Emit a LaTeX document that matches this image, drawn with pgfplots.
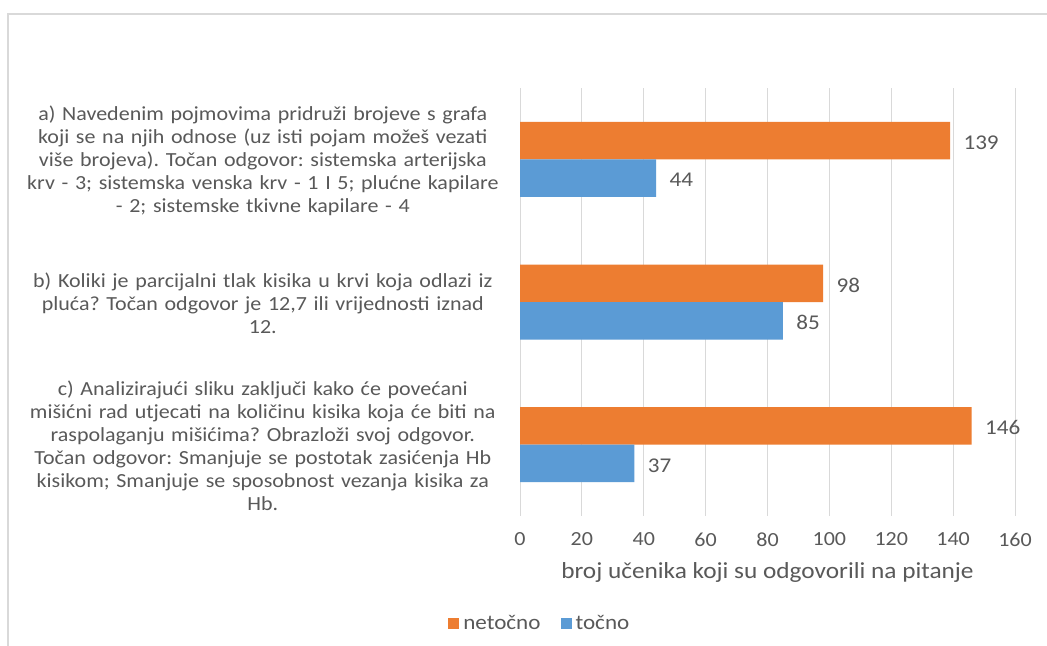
\documentclass[border=0pt]{standalone}
\usepackage{pgfplots}
\pgfplotsset{compat=1.18}
\usepackage{fontspec}
\setmainfont{Carlito}[FakeStretch=1.1]
\frenchspacing
\definecolor{tx}{HTML}{595959}
\definecolor{gr}{HTML}{D9D9D9}
\definecolor{orng}{HTML}{ED7D31}
\definecolor{blu}{HTML}{5B9BD5}
\begin{document}
\begin{tikzpicture}
\useasboundingbox (0bp,0bp) rectangle (1047bp,646bp);
\fill[white] (0bp,0bp) rectangle (1047bp,646bp);
\draw[gr, line width=1.5bp] (8bp,-2bp) -- (8bp,632bp) -- (1049bp,632bp);
\begin{axis}[
  at={(520bp,130bp)}, anchor=south west,
  scale only axis, width=495bp, height=428bp,
  xbar, bar width=37.5bp,
  xmin=0, xmax=160, ymin=-0.5, ymax=2.5, y dir=reverse,
  xtick={0,20,...,160}, ytick={0,1,2},
  yticklabels={
    {a) Navedenim pojmovima pridruži brojeve s grafa\\koji se na njih odnose (uz isti pojam možeš vezati\\više brojeva). Točan odgovor: sistemska arterijska\\krv - 3; sistemska venska krv - 1 I 5; plućne kapilare\\- 2; sistemske tkivne kapilare - 4},
    {b) Koliki je parcijalni tlak kisika u krvi koja odlazi iz\\pluća? Točan odgovor je 12,7 ili vrijednosti iznad\\12.},
    {c) Analizirajući sliku zaključi kako će povećani\\mišićni rad utjecati na količinu kisika koja će biti na\\raspolaganju mišićima? Obrazloži svoj odgovor.\\Točan odgovor: Smanjuje se postotak zasićenja Hb\\kisikom; Smanjuje se sposobnost vezanja kisika za\\Hb.}
  },
  /pgf/number format/assume math mode=true,
  axis line style={draw=none},
  major tick length=0pt,
  xmajorgrids, major grid style={gr, line width=1bp},
  tick label style={font=\fontsize{20bp}{23bp}\selectfont, text=tx},
  yticklabel style={text width=510bp, align=center, anchor=east, inner sep=0pt, xshift=-2bp, yshift=-1bp},
  xticklabel style={yshift=-13bp},
  xlabel={broj učenika koji su odgovorili na pitanje},
  xlabel style={font=\fontsize{23bp}{26bp}\selectfont, text=tx, at={(axis description cs:0.5,0)}, anchor=center, yshift=-56bp},
  nodes near coords,
  nodes near coords style={font=\fontsize{21bp}{24bp}\selectfont, text=tx, anchor=west, xshift=10bp, yshift=-2bp},
  legend columns=2,
  legend style={at={(axis description cs:0.04,-0.25)}, anchor=center, draw=none, fill=none,
    font=\fontsize{21bp}{24bp}\selectfont, text=tx,
    /tikz/every odd column/.append style={column sep=2bp},
    /tikz/every even column/.append style={column sep=18bp}},
  legend image code/.code={\path[#1,draw=none] (0bp,-5.5bp) rectangle (11bp,5.5bp);},
]
\addplot[fill=orng, draw=none, bar shift=18.75bp] coordinates {(139,0) (98,1) (146,2)};
\addlegendentry{netočno}
\addplot[fill=blu, draw=none, bar shift=-18.75bp] coordinates {(44,0) (85,1) (37,2)};
\addlegendentry{točno}
\end{axis}
\end{tikzpicture}
\end{document}
